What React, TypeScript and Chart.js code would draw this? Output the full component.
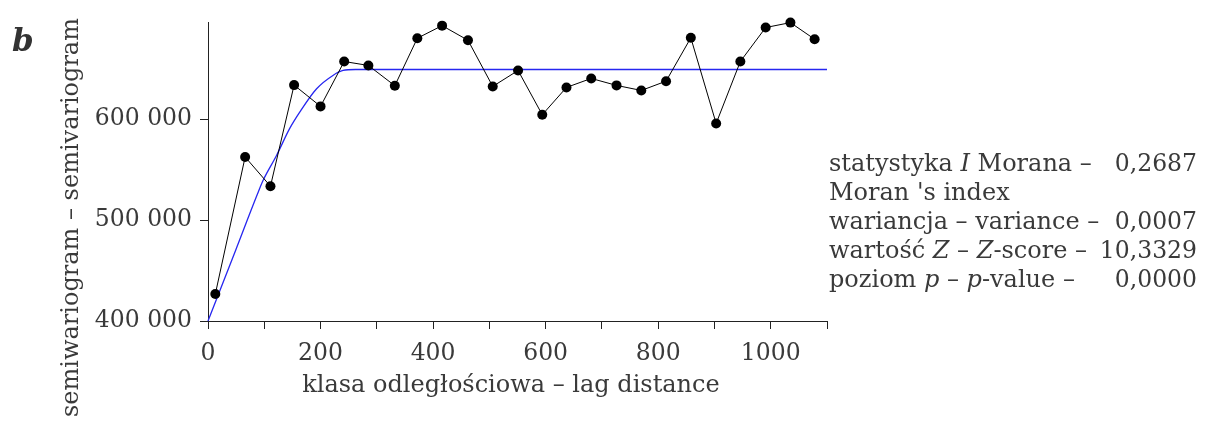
import React, { useEffect, useRef } from 'react';
import { Chart, registerables } from 'chart.js';

Chart.register(...registerables);

// Empirical semivariogram (lag distance class centres and values)
const lagDistance = [13, 66, 111, 153, 200, 242, 285, 332, 372, 416, 462, 506, 551, 594, 637, 681, 726, 770, 814, 858, 903, 946, 991, 1035, 1078];
const semivariogram = [426700, 562700, 533700, 634000, 612900, 657400, 653500, 633400, 680500, 693000, 678500, 632700, 648500, 604600, 631700, 640600, 633700, 628700, 637900, 680900, 596000, 657400, 691100, 696000, 679500];

// Fitted model curve
const modelLag = [0, 49, 87, 98, 122, 145, 163, 193, 222, 240, 262, 1100];
const modelValue = [400000, 470000, 524750, 539600, 564400, 590800, 607200, 630400, 643600, 648500, 649500, 649500];

// Axis ticks
const xTickValues = [0, 100, 200, 300, 400, 500, 600, 700, 800, 900, 1000, 1100];
const xTickLabels = ['0', '', '200', '', '400', '', '600', '', '800', '', '1000', ''];
const yTickValues = [400000, 500000, 600000];

// Texts
const panelLetter = 'b';
const xTitle = 'klasa odległościowa – lag distance';
const yTitle = 'semiwariogram – semivariogram';
const statLabelSegments: { t: string; i: boolean }[][] = [
  [{ t: 'statystyka ', i: false }, { t: 'I', i: true }, { t: ' Morana –', i: false }],
  [{ t: "Moran 's index", i: false }],
  [{ t: 'wariancja – variance –', i: false }],
  [{ t: 'wartość ', i: false }, { t: 'Z', i: true }, { t: ' – ', i: false }, { t: 'Z', i: true }, { t: '-score –', i: false }],
  [{ t: 'poziom ', i: false }, { t: 'p', i: true }, { t: ' – ', i: false }, { t: 'p', i: true }, { t: '-value –', i: false }],
];
const statValues = ['0,2687', '', '0,0007', '10,3329', '0,0000'];

const FONT = '"DejaVu Serif", serif';
const TEXT = '#3a3a3a';
const AXIS = '#222222';

function formatThousands(v: number): string {
  return String(Math.round(v)).replace(/\B(?=(\d{3})+(?!\d))/g, ' ');
}

const textPlugin = {
  id: 'freeText',
  afterDraw(chart: any) {
    const ctx = chart.ctx as CanvasRenderingContext2D;
    ctx.save();
    ctx.fillStyle = TEXT;
    ctx.textBaseline = 'alphabetic';

    // panel letter
    ctx.font = `italic bold 31px ${FONT}`;
    ctx.textAlign = 'left';
    ctx.fillStyle = '#333333';
    ctx.fillText(panelLetter, 12, 51);
    ctx.fillStyle = TEXT;

    // y title
    ctx.save();
    ctx.translate(78, 217.5);
    ctx.rotate(-Math.PI / 2);
    ctx.textAlign = 'center';
    ctx.font = `24px ${FONT}`;
    ctx.fillText(yTitle, 0, 0);
    ctx.restore();

    // x title
    ctx.font = `24px ${FONT}`;
    ctx.textAlign = 'center';
    ctx.fillText(xTitle, 511, 391.5);

    // statistics block
    const labelSize = 24;
    const valueSize = 23.5;
    const baselines = [171, 200, 229, 258, 287];
    statLabelSegments.forEach((segs, k) => {
      let x = 829;
      ctx.textAlign = 'left';
      segs.forEach((s) => {
        ctx.font = `${s.i ? 'italic ' : ''}${labelSize}px ${FONT}`;
        ctx.fillText(s.t, x, baselines[k]);
        x += ctx.measureText(s.t).width;
      });
      if (statValues[k]) {
        ctx.font = `${valueSize}px ${FONT}`;
        ctx.textAlign = 'right';
        ctx.fillText(statValues[k], 1197, baselines[k]);
      }
    });
    ctx.restore();
  },
};

export default function App() {
  const ref = useRef<HTMLCanvasElement | null>(null);

  useEffect(() => {
    if (!ref.current) return;
    const empirical = lagDistance.map((x, i) => ({ x, y: semivariogram[i] }));
    const model = modelLag.map((x, i) => ({ x, y: modelValue[i] }));

    const chart = new Chart(ref.current, {
      type: 'line',
      data: {
        datasets: [
          {
            data: empirical,
            borderColor: '#000000',
            borderWidth: 1,
            pointRadius: 5,
            pointBackgroundColor: '#000000',
            pointBorderWidth: 0,
            pointHoverRadius: 5,
            tension: 0,
            clip: false as any,
          },
          {
            data: model,
            borderColor: '#2626f0',
            borderWidth: 1.3,
            pointRadius: 0,
            cubicInterpolationMode: 'monotone',
            clip: false as any,
          },
        ],
      },
      options: {
        animation: false,
        responsive: false,
        devicePixelRatio: 1,
        events: [],
        layout: { padding: { left: 0, right: 379, top: 22, bottom: 0 } },
        plugins: {
          legend: { display: false },
          tooltip: { enabled: false },
          title: { display: false },
        },
        scales: {
          x: {
            type: 'linear',
            min: 0,
            max: 1100,
            afterFit: (s: any) => {
              s.height = 100;
            },
            afterBuildTicks: (s: any) => {
              s.ticks = xTickValues.map((v) => ({ value: v }));
            },
            grid: {
              display: true,
              drawOnChartArea: false,
              drawTicks: true,
              tickLength: 8,
              color: AXIS,
            },
            border: { display: true, color: AXIS, width: 1 },
            ticks: {
              autoSkip: false,
              maxRotation: 0,
              padding: 11,
              color: TEXT,
              font: { family: FONT, size: 23.5 },
              callback: (v: any) => {
                const idx = xTickValues.indexOf(Number(v));
                return idx >= 0 ? xTickLabels[idx] : '';
              },
            },
          },
          y: {
            type: 'linear',
            min: 400000,
            max: 696500,
            afterFit: (s: any) => {
              s.width = 208;
            },
            afterBuildTicks: (s: any) => {
              s.ticks = yTickValues.map((v) => ({ value: v }));
            },
            grid: {
              display: true,
              drawOnChartArea: false,
              drawTicks: true,
              tickLength: 8,
              color: AXIS,
            },
            border: { display: true, color: AXIS, width: 1 },
            ticks: {
              autoSkip: false,
              padding: 8,
              color: TEXT,
              font: { family: FONT, size: 23.5 },
              callback: (v: any) => formatThousands(Number(v)),
            },
          },
        },
      },
      plugins: [textPlugin],
    });

    return () => {
      chart.destroy();
    };
  }, []);

  return (
    <div style={{ position: 'fixed', left: 0, top: 0, width: 1206, height: 421, background: '#ffffff' }}>
      <canvas ref={ref} width={1206} height={421} style={{ display: 'block', width: 1206, height: 421 }} />
    </div>
  );
}
